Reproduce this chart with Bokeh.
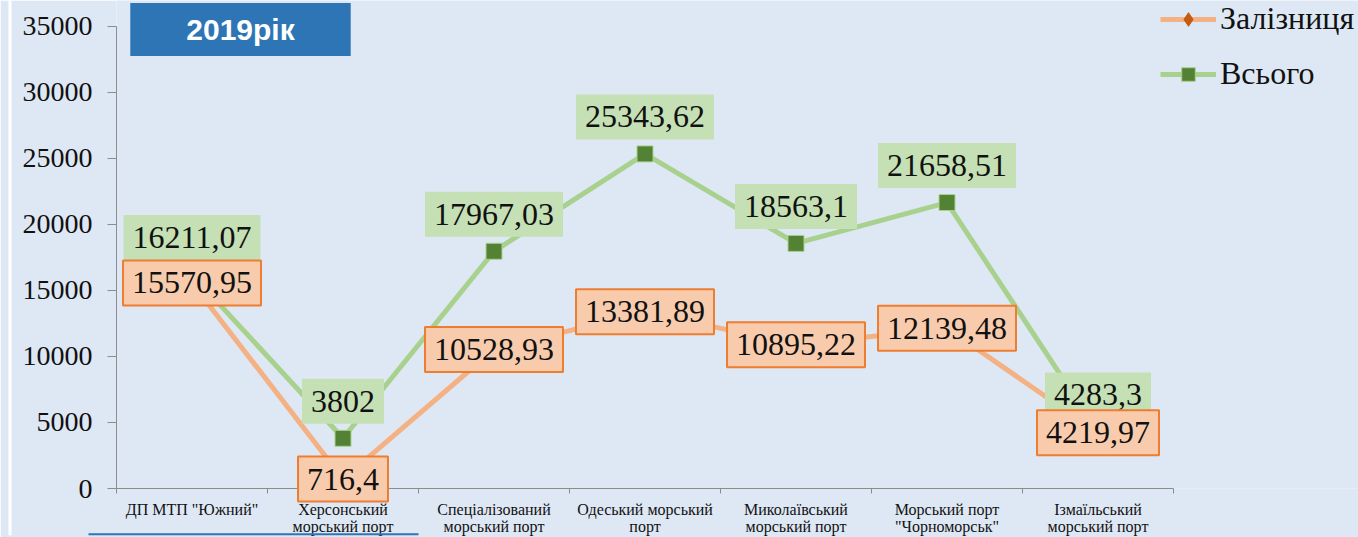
from bokeh.plotting import figure
from bokeh.models import (Range1d, FixedTicker, Label, Legend, LegendItem, ColumnDataSource)
from bokeh.core.properties import value
from bokeh.embed import file_html
from bokeh.resources import INLINE

categories = ['ДП МТП "Южний"', "Херсонський\nморський порт", "Спеціалізований\nморський порт",
              "Одеський морський\nпорт", "Миколаївський\nморський порт",
              "Морський порт\n\"Чорноморськ\"", "Ізмаїльський\nморський порт"]
rail = [15570.95, 716.4, 10528.93, 13381.89, 10895.22, 12139.48, 4219.97]
total = [16211.07, 3802, 17967.03, 25343.62, 18563.1, 21658.51, 4283.3]
y_ticks = [0, 5000, 10000, 15000, 20000, 25000, 30000, 35000]
series_names = ["Залізниця", "Всього"]
title_text = "2019рік"

BG = "#dee8f5"
SERIF = "Liberation Serif, Times New Roman, Tinos, serif"

# layout (pixels)
W, H = 1358, 537
AX_LEFT, AX_RIGHT = 116, 1173      # x extent of the category axis
AX_TOP, AX_BOTTOM = 26, 490        # y of top tick / zero line
n = len(categories)
x_end = n * (W - AX_LEFT) / (AX_RIGHT - AX_LEFT)
y_end = y_ticks[-1] * AX_BOTTOM / (AX_BOTTOM - AX_TOP)


def px_x(px):
    return (px - AX_LEFT) / (AX_RIGHT - AX_LEFT) * n


def px_y(py):
    return (AX_BOTTOM - py) * y_ticks[-1] / (AX_BOTTOM - AX_TOP)


xs = [i + 0.5 for i in range(n)]

p = figure(width=W, height=H, output_backend="svg", toolbar_location=None,
           x_range=Range1d(0, x_end), y_range=Range1d(y_ticks[0], y_end),
           min_border_left=AX_LEFT, min_border_right=0, min_border_top=0,
           min_border_bottom=H - AX_BOTTOM)
p.background_fill_color = BG
p.border_fill_color = BG
p.outline_line_color = None
p.xgrid.visible = False
p.ygrid.visible = False

# y axis
ya = p.yaxis[0]
ya.ticker = FixedTicker(ticks=y_ticks)
ya.bounds = (y_ticks[0], y_ticks[-1])
ya.axis_line_color = "#8c8c8c"
ya.major_tick_line_color = "#8c8c8c"
ya.major_tick_out = 9
ya.major_tick_in = 0
ya.minor_tick_line_color = None
ya.major_label_text_font = SERIF
ya.major_label_text_font_size = "28px"
ya.major_label_text_color = "#111111"
ya.major_label_standoff = 15

# x axis
xa = p.xaxis[0]
xa.ticker = FixedTicker(ticks=xs, minor_ticks=list(range(n + 1)))
xa.bounds = (0, n)
xa.major_label_overrides = {x: c for x, c in zip(xs, categories)}
xa.axis_line_color = "#8c8c8c"
xa.major_tick_line_color = None
xa.major_tick_out = 0
xa.major_tick_in = 0
xa.minor_tick_line_color = "#8c8c8c"
xa.minor_tick_out = 5
xa.minor_tick_in = 0
xa.major_label_text_font = SERIF
xa.major_label_text_font_size = "16px"
xa.major_label_text_line_height = 1.0
xa.major_label_text_color = "#111111"
xa.major_label_standoff = 7

src = ColumnDataSource(dict(x=xs, rail=rail, total=total,
                            rail_lbl=[str(v).replace(".", ",") for v in rail],
                            total_lbl=[str(v).replace(".", ",") for v in total]))

r_line = p.line("x", "rail", source=src, line_color="#f4b183", line_width=5)
r_mark = p.scatter("x", "rail", source=src, marker="diamond", size=16,
                   fill_color="#c55a11", line_color="#c55a11")
t_line = p.line("x", "total", source=src, line_color="#a9d18e", line_width=5)
t_mark = p.scatter("x", "total", source=src, marker="square", size=16,
                   fill_color="#548235", line_color="#a9d18e", line_width=1)

p.text("x", "total", text="total_lbl", source=src, y_offset=-37, level="overlay",
       text_align="center", text_baseline="middle", text_font=value(SERIF),
       text_font_size="32px", text_color="#111111", background_fill_color="#c5e0b4",
       border_line_color=None, padding=(9, 12))
p.text("x", "rail", text="rail_lbl", source=src, level="overlay",
       text_align="center", text_baseline="middle", text_font=value(SERIF),
       text_font_size="32px", text_color="#111111", background_fill_color="#f8cbad",
       border_line_color="#ed7d31", border_line_width=2, padding=(9, 12))

# slide decorations: thin white stripe at left, blue rule at bottom
p.quad(left=px_x(8), right=px_x(11), bottom=px_y(H), top=px_y(0),
       fill_color="white", line_color=None, level="overlay")
p.quad(left=px_x(88), right=px_x(418), bottom=px_y(H), top=px_y(535),
       fill_color="#2e75b6", line_color=None, level="overlay")

# title box
p.add_layout(Label(x=px_x(240), y=px_y(29),
                   text=title_text, text_align="center", text_baseline="middle",
                   text_font="Liberation Sans", text_font_style="bold", text_font_size="30px",
                   text_color="white", background_fill_color="#2e75b6", padding=(56, 10)))

legend = Legend(items=[LegendItem(label=series_names[0], renderers=[r_line, r_mark]),
                       LegendItem(label=series_names[1], renderers=[t_line, t_mark])],
                location=(1160 - AX_LEFT, AX_BOTTOM - 94), orientation="vertical")
legend.background_fill_alpha = 0
legend.border_line_color = None
legend.label_text_font = SERIF
legend.label_text_font_size = "32px"
legend.label_text_color = "#111111"
legend.glyph_width = 56
legend.glyph_height = 34
legend.label_height = 34
legend.label_standoff = 4
legend.spacing = 18
legend.padding = 0
legend.margin = 0
p.add_layout(legend, "center")

open("out.html", "w").write(file_html(p, INLINE))
